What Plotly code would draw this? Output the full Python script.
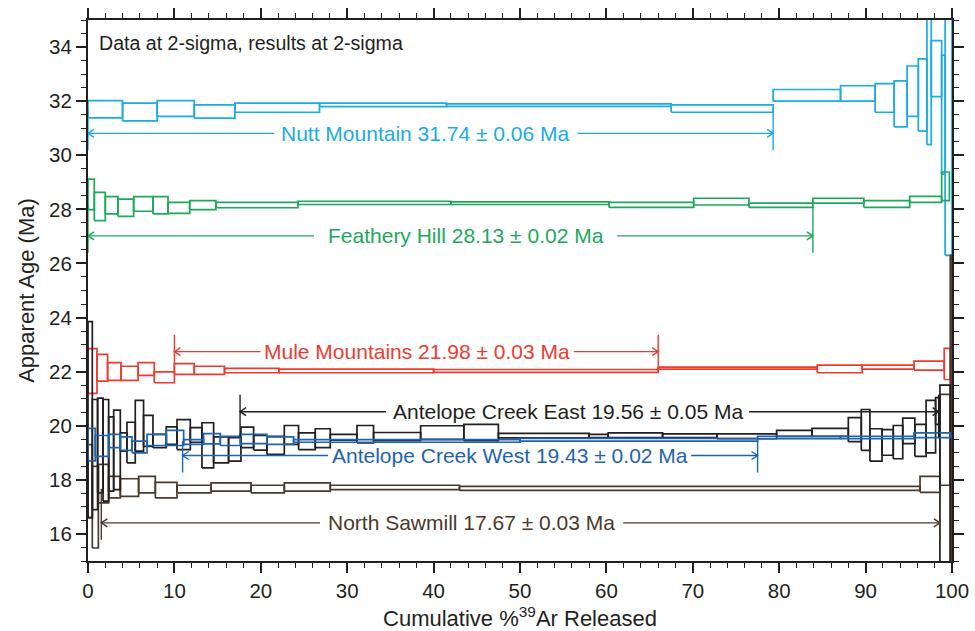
import plotly.graph_objects as go

# ---------------- data (cumulative % 39Ar step edges, 2-sigma age bounds in Ma) ----------------
nutt_edges = [0, 4.0, 8.0, 12.3, 17.0, 26.8, 41.5, 67.5, 79.3, 87.1, 91.1, 93.3, 94.8, 96.1, 97.1, 97.6, 98.8, 99.2, 100]
nutt_lo = [31.38, 31.27, 31.44, 31.37, 31.59, 31.80, 31.81, 31.59, 32.00, 32.00, 31.59, 31.05, 31.44, 30.89, 30.39, 32.17, 29.30, 26.30]
nutt_hi = [32.02, 31.93, 32.02, 31.86, 31.93, 31.93, 31.90, 31.86, 32.43, 32.57, 32.65, 32.75, 33.30, 33.56, 36.00, 34.24, 33.70, 36.00]

feat_edges = [0, 0.73, 2.0, 3.47, 5.28, 7.52, 9.26, 11.77, 14.8, 24.3, 42.0, 60.3, 70.1, 76.5, 83.9, 89.8, 95.1, 98.8, 99.7]
feat_lo = [27.99, 27.58, 27.83, 27.74, 27.93, 27.83, 27.85, 27.99, 28.06, 28.18, 28.18, 28.07, 28.16, 28.07, 28.23, 28.07, 28.26, 28.32]
feat_hi = [29.12, 28.63, 28.47, 28.38, 28.47, 28.47, 28.26, 28.32, 28.26, 28.30, 28.28, 28.26, 28.41, 28.23, 28.41, 28.32, 28.48, 29.38]

mule_edges = [0, 1.04, 2.27, 3.82, 5.79, 7.67, 10.0, 12.3, 15.8, 22.1, 40.0, 66.0, 84.4, 89.6, 95.6, 99.1, 99.8]
mule_lo = [21.20, 21.65, 21.68, 21.68, 21.86, 21.59, 21.90, 21.90, 21.96, 21.96, 21.97, 22.09, 21.96, 22.09, 22.06, 21.71]
mule_hi = [22.85, 22.64, 22.33, 22.20, 22.33, 21.99, 22.30, 22.20, 22.12, 22.09, 22.08, 22.17, 22.24, 22.24, 22.39, 22.86]

ace_edges = [0, 0.5, 1.11, 1.74, 2.39, 2.97, 3.74, 4.51, 5.47, 6.43, 7.52, 9.06, 10.3, 11.84, 13.19, 14.54,
             16.27, 17.7, 19.17, 20.71, 22.72, 24.37, 26.3, 28.04, 31.13, 33.05, 38.5, 43.5, 47.5, 58.0, 60.2,
             66.5, 72.8, 79.7, 83.8, 88.0, 89.5, 90.5, 91.9, 93.2, 94.3, 95.7, 97.0, 98.1, 98.6, 99.8]
ace_lo = [16.60, 16.90, 17.52, 17.21, 17.58, 17.64, 19.06, 18.63, 19.06, 19.24, 19.19, 19.31, 19.12, 19.39, 18.44,
          18.63, 18.69, 19.19, 19.10, 18.94, 19.31, 19.12, 19.19, 19.47, 19.37, 19.45, 19.50, 19.45, 19.55, 19.56,
          19.56, 19.56, 19.52, 19.61, 19.61, 19.41, 19.09, 18.69, 18.91, 18.78, 19.34, 18.87, 19.00, 20.05, 14.00]
ace_hi = [23.85, 20.97, 21.02, 20.97, 20.33, 20.58, 19.74, 20.13, 20.94, 20.38, 19.68, 19.96, 20.23, 19.93, 20.11,
          19.59, 19.56, 19.95, 19.64, 19.61, 20.01, 19.74, 19.89, 19.68, 20.01, 19.75, 20.00, 20.05, 19.72, 19.68,
          19.74, 19.70, 19.70, 19.83, 19.90, 20.30, 20.60, 19.89, 19.86, 20.01, 20.28, 20.05, 20.94, 21.04, 21.50]

acw_edges = [0, 0.84, 2.39, 3.74, 5.09, 6.83, 9.06, 11.07, 13.38, 15.31, 17.63, 20.7, 23.8, 50.0, 77.5, 87.1, 95.6, 99.8]
acw_lo = [18.70, 18.87, 19.19, 19.09, 19.00, 19.27, 19.27, 19.31, 19.33, 19.27, 19.34, 19.31, 19.39, 19.43, 19.52, 19.52, 19.56]
acw_hi = [19.90, 19.64, 19.68, 19.59, 19.43, 19.68, 19.83, 19.49, 19.71, 19.61, 19.68, 19.59, 19.49, 19.53, 19.61, 19.61, 19.74]

ns_edges = [0, 0.5, 1.2, 2.39, 3.74, 5.86, 7.79, 10.3, 14.24, 18.87, 22.72, 28.04, 43.0, 96.3, 98.6, 99.8, 100]
ns_lo = [16.60, 15.48, 17.15, 17.33, 17.39, 17.52, 17.33, 17.52, 17.58, 17.52, 17.58, 17.64, 17.61, 17.54, 17.80, 14.00]
ns_hi = [19.30, 18.50, 18.57, 18.13, 18.04, 18.13, 17.91, 17.80, 17.89, 17.80, 17.89, 17.80, 17.76, 18.13, 21.16, 26.30]

# plateau summaries
sample_names = ["Nutt Mountain", "Feathery Hill", "Mule Mountains", "North Sawmill", "Antelope Creek East", "Antelope Creek West"]
plateau_age = [31.74, 28.13, 21.98, 17.67, 19.56, 19.43]
plateau_err = [0.06, 0.02, 0.03, 0.03, 0.05, 0.02]
plateau_start = [0.0, 0.0, 10.0, 1.54, 17.6, 10.95]
plateau_end = [79.3, 83.9, 66.0, 98.6, 98.45, 77.5]
arrow_level = [30.81, 27.02, 22.74, 16.41, 20.52, 18.90]
label_x = [39.1, 43.7, 38.1, 44.4, 55.5, 48.8]

colors = ["#19ADE4", "#1DA95A", "#EE3B2E", "#4A3A2C", "#231F20", "#1E63B0"]
spectra = [(nutt_edges, nutt_lo, nutt_hi), (feat_edges, feat_lo, feat_hi), (mule_edges, mule_lo, mule_hi),
           (ns_edges, ns_lo, ns_hi), (ace_edges, ace_lo, ace_hi), (acw_edges, acw_lo, acw_hi)]

FONT = "Liberation Sans, Arial, Helvetica, sans-serif"
INK = "#231F20"
LABEL_SIZE = 21

# ---------------- layout geometry ----------------
W, H = 975, 631
ML, MR, MT, MB = 88, 23, 20, 70
XR = [0, 100]
YR = [15, 35]
px_x = (W - ML - MR) / (XR[1] - XR[0])
px_y = (H - MT - MB) / (YR[1] - YR[0])

fig = go.Figure()


def box_path(edges, lo, hi):
    xs, ys = [], []
    for i in range(len(lo)):
        x0, x1 = edges[i], edges[i + 1]
        xs += [x0, x0, x1, x1, x0, None]
        ys += [lo[i], hi[i], hi[i], lo[i], lo[i], None]
    return xs, ys


for (edges, lo, hi), col, name in zip(spectra, colors, sample_names):
    xs, ys = box_path(edges, lo, hi)
    fig.add_trace(go.Scatter(x=xs, y=ys, mode="lines", line=dict(color=col, width=1.7),
                             hoverinfo="skip", showlegend=False, name=name))

# plateau arrows with a gap for the label
ext = 17 / px_y
ah_dx = 6 / px_x
ah_dy = 4 / px_y
gap = 7 / px_x
for i, name in enumerate(sample_names):
    col = colors[i]
    s, e, yl, age = plateau_start[i], plateau_end[i], arrow_level[i], plateau_age[i]
    text = f"{name} {plateau_age[i]:.2f} \u00b1 {plateau_err[i]:.2f} Ma"
    half_w = 0.5 * len(text) * 0.475 * LABEL_SIZE / px_x
    sign = 1 if yl > age else -1
    xs = [s, label_x[i] - half_w - gap, None,
          label_x[i] + half_w + gap, e, None,
          s + ah_dx, s, s + ah_dx, None,
          e - ah_dx, e, e - ah_dx, None,
          s, s, None,
          e, e]
    ys = [yl, yl, None,
          yl, yl, None,
          yl + ah_dy, yl, yl - ah_dy, None,
          yl + ah_dy, yl, yl - ah_dy, None,
          age, yl + sign * ext, None,
          age, yl + sign * ext]
    fig.add_trace(go.Scatter(x=xs, y=ys, mode="lines", line=dict(color=col, width=1.4),
                             hoverinfo="skip", showlegend=False))
    fig.add_annotation(x=label_x[i], y=yl, xref="x", yref="y", showarrow=False, text=text,
                       font=dict(size=LABEL_SIZE, color=col, family=FONT))

fig.add_annotation(x=0, y=1, xref="paper", yref="paper", xanchor="left", yanchor="top",
                   xshift=9, yshift=-10, showarrow=False,
                   text="Data at 2-sigma, results at 2-sigma",
                   font=dict(size=19.6, color=INK, family=FONT))

axis_common = dict(showline=True, linecolor=INK, linewidth=2, mirror="allticks",
                   ticks="outside", ticklen=10, tickwidth=1.6, tickcolor=INK,
                   showgrid=False, zeroline=False, automargin=False,
                   tickfont=dict(size=20.5, color=INK, family=FONT))

fig.update_xaxes(range=XR, dtick=10, tick0=0,
                 minor=dict(dtick=2, ticklen=5, tickwidth=1.4, tickcolor=INK, ticks="outside"),
                 title=dict(text="Cumulative %<sup>39</sup>Ar Released", standoff=12,
                            font=dict(size=22, color=INK, family=FONT)),
                 **axis_common)
fig.update_yaxes(range=YR, dtick=2, tick0=0,
                 minor=dict(dtick=0.5, ticklen=5, tickwidth=1.4, tickcolor=INK, ticks="outside"),
                 title=dict(text="Apparent Age (Ma)", standoff=8,
                            font=dict(size=22, color=INK, family=FONT)),
                 **axis_common)

fig.update_layout(width=W, height=H, margin=dict(l=ML, r=MR, t=MT, b=MB, autoexpand=False),
                  plot_bgcolor="white", paper_bgcolor="white", showlegend=False)

fig.write_html("out.html")
